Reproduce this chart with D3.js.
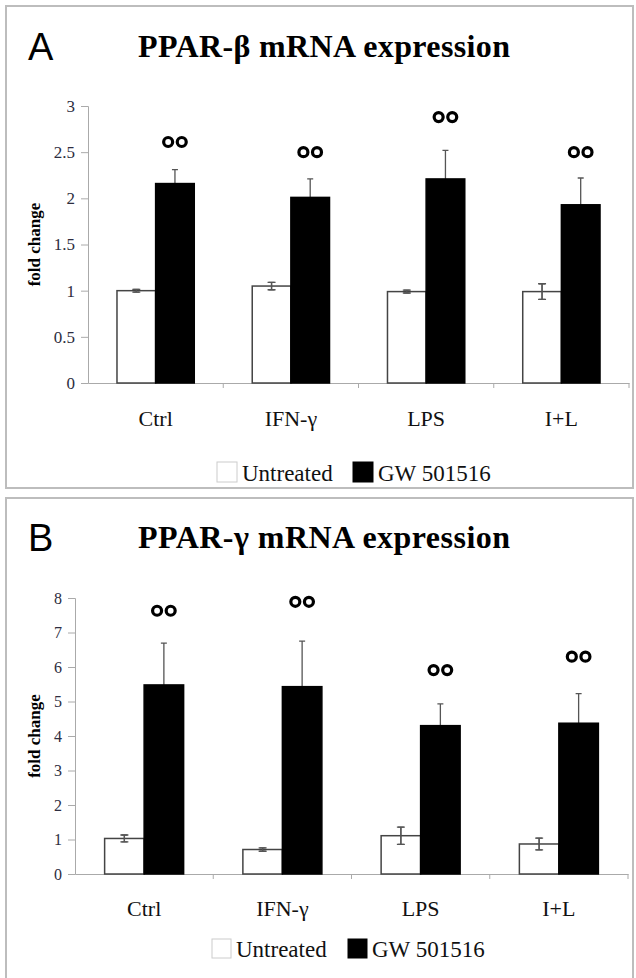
<!DOCTYPE html>
<html>
<head>
<meta charset="utf-8">
<script src="https://cdn.jsdelivr.net/npm/d3@7"></script>
<style>
    body { margin: 0; background: #fff; }
    svg { display: block; }
</style>
</head>
<body>
<div id="chart"></div>
<script>
// data
const categories = ["Ctrl", "IFN-\u03b3", "LPS", "I+L"]
const seriesNames = ["Untreated", "GW 501516"]

// panel A - PPAR-beta
const betaUntreated = [1.0, 1.05, 0.99, 0.99]
const betaUntreatedErr = [0.015, 0.04, 0.015, 0.085]
const betaGW = [2.16, 2.01, 2.21, 1.93]
const betaGWErr = [0.15, 0.2, 0.31, 0.29]
const betaMarks = [2.61, 2.5, 2.88, 2.5]
const betaTicks = [0, 0.5, 1, 1.5, 2, 2.5, 3]

// panel B - PPAR-gamma
const gammaUntreated = [1.03, 0.71, 1.11, 0.87]
const gammaUntreatedErr = [0.1, 0.05, 0.25, 0.17]
const gammaGW = [5.48, 5.43, 4.3, 4.37]
const gammaGWErr = [1.21, 1.32, 0.63, 0.86]
const gammaMarks = [7.63, 7.89, 5.91, 6.30]
const gammaTicks = [0, 1, 2, 3, 4, 5, 6, 7, 8]

const serif = "'Liberation Serif', 'Times New Roman', serif"
const sans = "'Liberation Sans', Arial, sans-serif"

const svg = d3.select('#chart').append('svg')
    .attr('width', 636)
    .attr('height', 978)

const buildRows = (vals, errs, gw, gwErr) => categories.map((c, i) => ({
    cat: c,
    bars: [
        { s: seriesNames[0], v: vals[i], e: errs[i] },
        { s: seriesNames[1], v: gw[i], e: gwErr[i] }
    ]
}))

const drawPanel = (p) => {
    const g = svg.append('g')

    // frame
    g.append('rect')
        .attr('x', 6).attr('y', p.boxTop)
        .attr('width', 627).attr('height', p.boxH)
        .attr('fill', 'none').attr('stroke', '#bdbdbd').attr('stroke-width', 2)

    g.append('text').attr('x', 28).attr('y', p.titleY + 3)
        .attr('font-family', sans).attr('font-size', 38)
        .text(p.letter)
    g.append('text').attr('x', 138).attr('y', p.titleY)
        .attr('font-family', serif).attr('font-size', 32).attr('font-weight', 'bold')
        .attr('textLength', 372)
        .text(p.title)

    const x0 = d3.scaleBand().domain(categories).range([p.left, p.right]).padding(0)
    const x1 = d3.scaleBand().domain(seriesNames).range([0, x0.bandwidth()])
        .paddingInner(0).paddingOuter(0.75)
    const y = d3.scaleLinear().domain(p.domain).range([p.bottom, p.top])
    const color = d3.scaleOrdinal().domain(seriesNames).range(['#fff', '#000'])

    // y axis
    const ya = g.append('g').attr('transform', `translate(${p.left},0)`)
        .call(d3.axisLeft(y).tickValues(p.ticks).tickSize(7).tickPadding(6).tickFormat(d3.format('')))
    ya.select('.domain').attr('stroke', '#aaa')
    ya.selectAll('.tick line').attr('stroke', '#aaa')
    ya.selectAll('text').attr('font-family', serif).attr('font-size', p.tickSize).attr('fill', '#2d2d40')

    // x axis
    const xa = g.append('g').attr('transform', `translate(0,${p.bottom})`)
        .call(d3.axisBottom(x0).tickSize(0).tickSizeOuter(0).tickPadding(p.catPad))
    xa.select('.domain').attr('stroke', '#aaa')
    xa.selectAll('text').attr('font-family', serif).attr('font-size', 22).attr('fill', '#111')
    g.append('g').selectAll('line')
        .data(categories.slice(1).concat(['end']))
        .enter().append('line')
        .attr('x1', (d, i) => p.left + x0.step() * (i + 1))
        .attr('x2', (d, i) => p.left + x0.step() * (i + 1))
        .attr('y1', p.bottom).attr('y2', p.bottom + 5)
        .attr('stroke', '#aaa')

    // y label
    g.append('text')
        .attr('transform', `translate(${p.labelX},${(p.top + p.bottom) / 2}) rotate(-90)`)
        .attr('text-anchor', 'middle')
        .attr('font-family', serif).attr('font-size', 17).attr('font-weight', 'bold')
        .text('fold change')

    const groups = g.append('g').selectAll('g')
        .data(p.rows)
        .enter().append('g')
        .attr('transform', d => `translate(${x0(d.cat)},0)`)

    // error bars first so black bars hide the lower whisker
    groups.selectAll('.err')
        .data(d => d.bars)
        .enter().append('path')
        .attr('class', 'err')
        .attr('fill', 'none').attr('stroke', '#555').attr('stroke-width', 1.3)
        .attr('d', d => {
            const cx = x1(d.s) + x1.bandwidth() / 2
            const hi = y(d.v + d.e), lo = y(d.v - d.e)
            return `M${cx - 3},${hi}H${cx + 3}M${cx},${hi}V${lo}M${cx - 3},${lo}H${cx + 3}`
        })

    groups.selectAll('rect')
        .data(d => d.bars)
        .enter().append('rect')
        .attr('x', d => x1(d.s))
        .attr('y', d => y(d.v))
        .attr('width', x1.bandwidth())
        .attr('height', d => p.bottom - y(d.v))
        .attr('fill', d => color(d.s))
        .attr('fill-opacity', d => d.s === seriesNames[0] ? 0 : 1)
        .attr('stroke', d => d.s === seriesNames[0] ? '#444' : '#000')
        .attr('stroke-width', 1.5)

    // redraw whiskers of the white bars on top
    groups.selectAll('.err2')
        .data(d => d.bars.filter(b => b.s === seriesNames[0]))
        .enter().append('path')
        .attr('fill', 'none').attr('stroke', '#555').attr('stroke-width', 1.3)
        .attr('d', d => {
            const cx = x1(d.s) + x1.bandwidth() / 2
            const hi = y(d.v + d.e), lo = y(d.v - d.e)
            return `M${cx - 4},${hi}H${cx + 4}M${cx},${hi}V${lo}M${cx - 4},${lo}H${cx + 4}`
        })

    // significance marks (two open circles)
    const marks = g.append('g').selectAll('g')
        .data(p.marks)
        .enter().append('g')
        .attr('transform', (d, i) => `translate(${x0(categories[i]) + x1(seriesNames[1]) + x1.bandwidth() / 2},${y(d)})`)
    marks.selectAll('circle')
        .data([-6.8, 6.8])
        .enter().append('circle')
        .attr('cx', d => d).attr('cy', 0).attr('r', 4.5)
        .attr('fill', 'none').attr('stroke', '#000').attr('stroke-width', 3.2)

    // legend
    const lg = g.append('g').attr('transform', `translate(${p.legendX},${p.legendY})`)
    lg.selectAll('rect')
        .data(seriesNames)
        .enter().append('rect')
        .attr('x', (d, i) => i * 136).attr('y', -p.legBox)
        .attr('width', p.legBox).attr('height', p.legBox)
        .attr('fill', d => color(d))
        .attr('stroke', (d, i) => i === 0 ? '#ccc' : '#000')
    lg.selectAll('text')
        .data(seriesNames)
        .enter().append('text')
        .attr('x', (d, i) => i * 136 + p.legBox + 5).attr('y', -1)
        .attr('font-family', serif).attr('font-size', 23).attr('fill', '#111')
        .text(d => d)
}

drawPanel({
    letter: 'A', title: 'PPAR-\u03b2 mRNA expression', titleY: 57,
    boxTop: 6, boxH: 482,
    left: 88, right: 629, top: 106, bottom: 383,
    domain: [0, 3], ticks: betaTicks, tickSize: 17,
    catPad: 27, labelX: 40,
    rows: buildRows(betaUntreated, betaUntreatedErr, betaGW, betaGWErr),
    marks: betaMarks,
    legendX: 217, legendY: 482, legBox: 20
})

drawPanel({
    letter: 'B', title: 'PPAR-\u03b3 mRNA expression', titleY: 548,
    boxTop: 498, boxH: 500,
    left: 75, right: 628, top: 598, bottom: 874,
    domain: [0, 8], ticks: gammaTicks, tickSize: 16,
    catPad: 26, labelX: 40,
    rows: buildRows(gammaUntreated, gammaUntreatedErr, gammaGW, gammaGWErr),
    marks: gammaMarks,
    legendX: 212, legendY: 958, legBox: 19
})
</script>
</body>
</html>
